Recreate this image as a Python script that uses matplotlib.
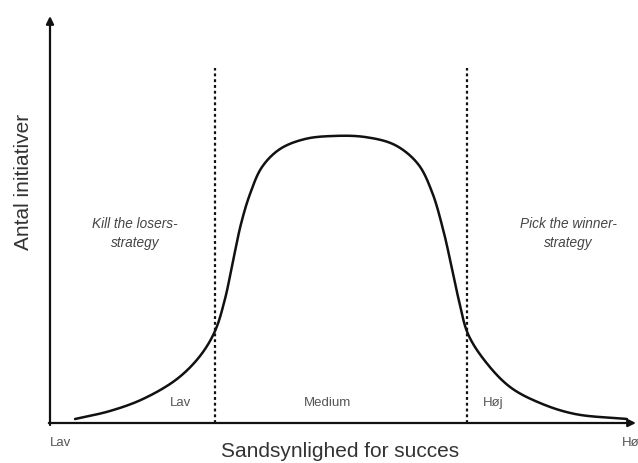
import numpy as np
import matplotlib
matplotlib.use("Agg")
import matplotlib.pyplot as plt

# Curve values (x: probability of success 0-100, y: number of initiatives 0-100)
curve_x = [4.27, 10.24, 15.87, 21.67, 25.60, 28.16, 29.86, 31.23, 32.59, 34.13, 36.18,
           39.25, 43.52, 48.29, 53.75, 58.87, 62.80, 65.19, 67.06, 68.43, 69.80, 71.33,
           74.23, 78.50, 83.62, 89.59, 98.46]
curve_y = [0.98, 2.95, 5.90, 10.81, 16.46, 22.60, 30.47, 39.80, 48.89, 56.27, 62.90,
           67.32, 69.78, 70.52, 70.27, 68.30, 63.64, 56.76, 47.67, 39.07, 29.98, 21.87,
           15.23, 8.85, 4.91, 2.21, 0.98]
boundaries = [28.2, 71.2]
boundary_top = 87.2
zone_labels = ["Lav", "Medium", "Høj"]
zone_label_x = [22.2, 47.4, 75.6]
strategy_labels = ["Kill the losers-\nstrategy", "Pick the winner-\nstrategy"]
strategy_x = [14.5, 88.5]
xlabel = "Sandsynlighed for succes"
ylabel = "Antal initiativer"
xend_labels = ["Lav", "Høj"]

W, H = 638, 464
AX_L, AX_B, AX_W, AX_H = 50, 40, 586, 407


def centripetal_cr(xs, ys, n=24, alpha=0.5):
    # smooth in an isotropic (pixel-like) space
    sxf, syf = AX_W / 100.0, AX_H / 100.0
    p = np.column_stack([np.asarray(xs) * sxf, np.asarray(ys) * syf]).astype(float)
    first = 2 * p[0] - p[1]
    last = 2 * p[-1] - p[-2]
    p = np.vstack([first, p, last])
    out = []
    for i in range(1, len(p) - 2):
        P0, P1, P2, P3 = p[i - 1], p[i], p[i + 1], p[i + 2]
        t0 = 0.0
        t1 = t0 + np.linalg.norm(P1 - P0) ** alpha
        t2 = t1 + np.linalg.norm(P2 - P1) ** alpha
        t3 = t2 + np.linalg.norm(P3 - P2) ** alpha
        t = np.linspace(t1, t2, n, endpoint=False)[:, None]
        A1 = (t1 - t) / (t1 - t0) * P0 + (t - t0) / (t1 - t0) * P1
        A2 = (t2 - t) / (t2 - t1) * P1 + (t - t1) / (t2 - t1) * P2
        A3 = (t3 - t) / (t3 - t2) * P2 + (t - t2) / (t3 - t2) * P3
        B1 = (t2 - t) / (t2 - t0) * A1 + (t - t0) / (t2 - t0) * A2
        B2 = (t3 - t) / (t3 - t1) * A2 + (t - t1) / (t3 - t1) * A3
        C = (t2 - t) / (t2 - t1) * B1 + (t - t1) / (t2 - t1) * B2
        out.append(C)
    out.append(p[-2][None, :])
    out = np.vstack(out)
    return out[:, 0] / sxf, out[:, 1] / syf


plt.rcParams['font.family'] = ['Liberation Sans', 'DejaVu Sans']
fig = plt.figure(figsize=(W / 100, H / 100), dpi=100)
ax = fig.add_axes([AX_L / W, AX_B / H, AX_W / W, AX_H / H])
ax.set_xlim(0, 100)
ax.set_ylim(0, 100)
ax.axis('off')

sx, sy = centripetal_cr(curve_x, curve_y)
ax.plot(sx, sy, color='#111111', lw=1.8, solid_capstyle='round')

for b in boundaries:
    ax.plot([b, b], [0, boundary_top], color='#111111', lw=1.6,
            linestyle=(0, (1.3, 1.3)))

# axes arrows
arrow_kw = dict(arrowstyle='-|>,head_length=0.45,head_width=0.22', color='#111111',
                lw=1.6, shrinkA=0, shrinkB=0)
ax.annotate('', xy=(0, 100), xytext=(0, -0.5), arrowprops=arrow_kw, annotation_clip=False)
ax.annotate('', xy=(100, 0), xytext=(-0.2, 0), arrowprops=arrow_kw, annotation_clip=False)

for lab, x in zip(zone_labels, zone_label_x):
    ax.text(x, 5.2, lab, ha='center', va='center', fontsize=9.5, color='#555555')

for lab, x in zip(strategy_labels, strategy_x):
    ax.text(x, 46.8, lab, ha='center', va='center', fontsize=9.8, color='#444444',
            style='italic', linespacing=1.45)

ax.text(0, -4.7, xend_labels[0], ha='left', va='center', fontsize=9.5, color='#555555',
        clip_on=False)
ax.text(97.6, -4.7, xend_labels[1], ha='left', va='center', fontsize=9.5, color='#555555',
        clip_on=False)

ax.text(49.5, -6.8, xlabel, ha='center', va='center', fontsize=15, color='#333333',
        clip_on=False)
ax.text(-4.5, 59.5, ylabel, ha='center', va='center', fontsize=15, color='#333333',
        rotation=90, clip_on=False)

fig.savefig('out.png', dpi=100)
